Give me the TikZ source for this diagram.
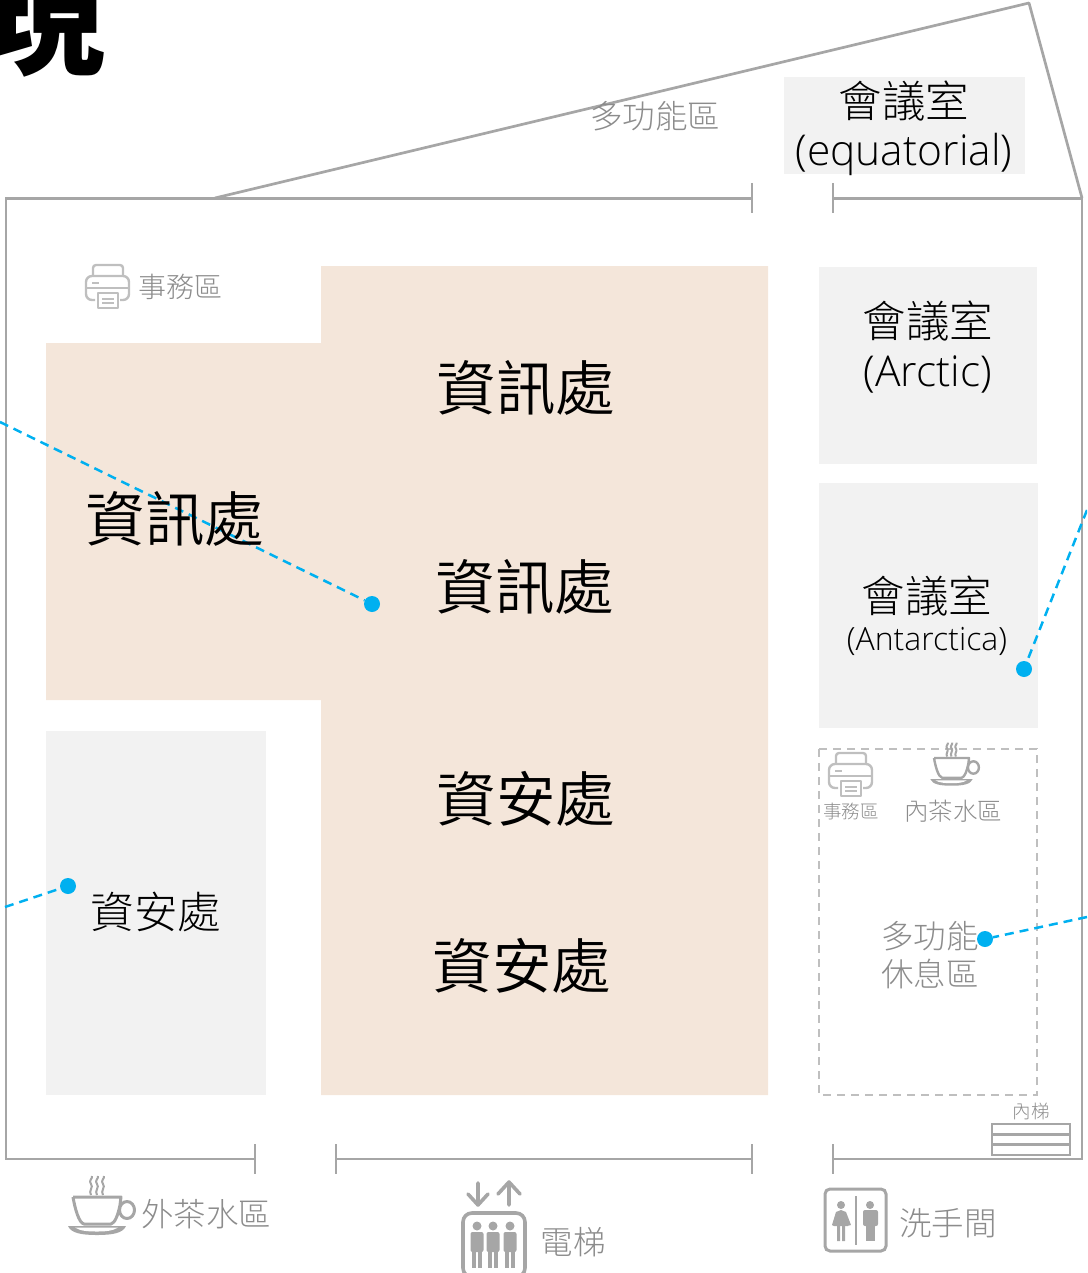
\documentclass[tikz,border=0pt]{standalone}
\usepackage{fontspec}
\setmainfont{Open Sans Light}
\newfontfamily\cjk{Noto Sans CJK TC DemiLight}
\newfontfamily\cjklight{Noto Sans CJK TC Light}
\newfontfamily\cjkblack{Noto Sans CJK TC Black}
\newfontfamily\lat{Open Sans Light}
\newcommand{\fs}[1]{\fontsize{#1}{#1}\selectfont}
\definecolor{wall}{HTML}{A6A6A6}
\definecolor{lite}{HTML}{BFBFBF}
\definecolor{beige}{HTML}{F4E6DA}
\definecolor{room}{HTML}{F2F2F2}
\definecolor{link}{HTML}{00B0F0}
\definecolor{greytext}{HTML}{8C8C8C}
\tikzset{
  wallline/.style={draw=wall,line width=2.7pt},
  beigearea/.style={fill=beige},
  roombox/.style={fill=room},
  dept/.style={font=\cjk\fs{59.5},text=black,inner sep=0pt},
  roomlabel/.style={font=\cjklight\fs{43.5},text=black,inner sep=0pt,align=center},
  greylabel/.style={font=\cjklight\fs{32.5},text=greytext,inner sep=0pt,align=left},
  dashlink/.style={draw=link,line width=2.5pt,dash pattern=on 9pt off 6pt},
  dot/.style={circle,fill=link,minimum size=16pt,inner sep=0pt},
  pics/printer/.style={code={
    \begin{scope}[draw=lite,line width=2.4pt,line join=round]
      \draw[rounded corners=3pt] (8,12) -- (8,1) -- (38,1) -- (38,12);
      \draw[rounded corners=6pt] (10,36) -- (1,36) -- (1,12) -- (44,12) -- (44,36) -- (35,36);
      \draw[fill=white] (13,29) rectangle (33,44);
      \draw (1,24) -- (44,24);
      \draw (7,19) -- (14,19);
      \draw (17,35) -- (29,35) (17,39) -- (29,39);
    \end{scope}}},
  pics/cup/.style={code={
    \begin{scope}[draw=wall,line join=round]
      \draw[line width=#1] (0,0) -- (48,0) -- (47,8) .. controls (45,18) and (42,26) .. (38,27) -- (11,27) .. controls (6,26) and (2,12) .. (0,0);
      \draw[line width=#1] (54,13) ellipse (7.5 and 8.5);
      \fill[wall] (-5,29) -- (53,29) .. controls (50,36) and (40,38) .. (24,38) .. controls (8,38) and (-2,36) .. (-5,29) -- cycle;
      \fill[white] (2,30.5) -- (45,30.5) .. controls (40,34) and (32,34.5) .. (24,34.5) .. controls (15,34.5) and (7,34) .. (2,30.5) -- cycle;
      \foreach \x in {18,24,30}{
        \draw[line width=2pt] (\x,-2) .. controls (\x-3,-6) and (\x+3,-10) .. (\x,-13) .. controls (\x-3,-16) and (\x+2,-19) .. (\x+1,-21);}
    \end{scope}}},
  pics/person/.style={code={
    \fill[wall] (0,-6) circle (4.5);
    \fill[wall,rounded corners=2pt] (-6.5,0) rectangle (6.5,20);
    \fill[wall] (-5,15) rectangle (-1,36);
    \fill[wall] (1,15) rectangle (5,36);}}
}
\begin{document}
\begin{tikzpicture}[x=1pt,y=-1pt]
\useasboundingbox (0,0) rectangle (1087,1273);
\clip (0,0) rectangle (1087,1273);
% title fragment
\node[anchor=base west,inner sep=0pt,font=\cjkblack\fs{125},text=black] (title) at (-20,65) {現};
% areas
\path[beigearea] (46,343) -- (321,343) -- (321,266) -- (768,266) -- (768,1095) -- (321,1095) -- (321,700) -- (46,700) -- cycle;
\path[roombox] (46,731) rectangle (266,1095);
\path[roombox] (819,267) rectangle (1037,464);
\path[roombox] (819,483) rectangle (1038,728);
\path[roombox] (784,77) rectangle (1025,174);
\draw[draw=lite,line width=2.4pt,dash pattern=on 8pt off 6pt] (819,749) rectangle (1037,1095);
% walls
\draw[wallline] (752,183) -- (752,213);
\draw[wallline] (752,198.5) -- (6,198.5) -- (6,1159) -- (255,1159);
\draw[wallline] (255,1144) -- (255,1174);
\draw[wallline] (336,1144) -- (336,1174);
\draw[wallline] (336,1159) -- (752,1159);
\draw[wallline] (752,1144) -- (752,1174);
\draw[wallline] (833,1144) -- (833,1174);
\draw[wallline,line join=miter] (833,1159) -- (1082,1159) -- (1082,198.5) -- (833,198.5);
\draw[wallline] (833,183) -- (833,213);
\draw[wallline,line join=round] (215,198) -- (1029,3) -- (1082,198);
% internal stairs
\draw[wallline] (992,1124) rectangle (1070,1155);
\draw[wallline] (992,1134.5) -- (1070,1134.5) (992,1144.5) -- (1070,1144.5);
% connectors
\coordinate (e1) at (0,422);
\coordinate (e2) at (1087,510);
\coordinate (e3) at (5,907);
\coordinate (e4) at (1087,917);
\node[dot] (p1) at (372,604) {};
\node[dot] (p2) at (1024,669) {};
\node[dot] (p3) at (68,886) {};
\node[dot] (p4) at (985,939) {};
\draw[dashlink] (e1) -- (p1);
\draw[dashlink] (e2) -- (p2);
\draw[dashlink] (e3) -- (p3);
\draw[dashlink] (e4) -- (p4);
% main labels
\node[dept] (d1) at (526,388) {資訊處};
\node[dept] (d2) at (175,519) {資訊處};
\node[dept] (d3) at (525,587) {資訊處};
\node[dept] (d4) at (526,799) {資安處};
\node[dept] (d5) at (522,966) {資安處};
\node[roomlabel] (sec) at (156,912) {資安處};
\node[roomlabel] (eq1) at (904,101) {會議室};
\node[font=\lat\fs{42.5},inner sep=0pt] (eq2) at (904,154) {(equatorial)};
\node[roomlabel] (ar1) at (928,321) {會議室};
\node[font=\lat\fs{42.5},inner sep=0pt] (ar2) at (928,374) {(Arctic)};
\node[roomlabel] (an1) at (927,596) {會議室};
\node[font=\lat\fs{32},inner sep=0pt] (an2) at (927,641) {(Antarctica)};
% grey labels
\node[greylabel] (multi) at (655,116) {多功能區};
\node[greylabel,font=\cjklight\fs{28}] (off1) at (180,287) {事務區};
\node[greylabel,font=\cjklight\fs{18.5}] (off2) at (851,811) {事務區};
\node[greylabel,font=\cjklight\fs{24.5}] (tea1) at (953,811) {內茶水區};
\node[greylabel] (rest1) at (930,936) {多功能};
\node[greylabel] (rest2) at (930,974) {休息區};
\node[greylabel,font=\cjklight\fs{18.5}] (stair) at (1031,1111) {內梯};
\node[greylabel] (tea2) at (206,1214) {外茶水區};
\node[greylabel] (lift) at (573,1242) {電梯};
\node[greylabel] (wc) at (948,1223) {洗手間};
% icons
\pic at (85,264) {printer};
\pic at (828,752) {printer};
\pic at (73,1197) {cup=3pt};
\pic[scale=0.73] at (934,758) {cup=2.4pt};
% elevator
\draw[draw=wall,line width=3.6pt,rounded corners=9pt] (463,1213) rectangle (525,1277);
\pic at (477,1232) {person};
\pic at (493,1232) {person};
\pic at (510,1232) {person};
\draw[draw=wall,line width=3.6pt,line cap=round,line join=round] (478,1183) -- (478,1205) (468,1194) -- (478,1205) -- (488,1194);
\draw[draw=wall,line width=3.6pt,line cap=round,line join=round] (509,1205) -- (509,1183) (498,1194) -- (509,1182) -- (520,1194);
% restroom
\draw[draw=wall,line width=3pt,rounded corners=5pt] (825,1189) rectangle (886,1251);
\draw[draw=wall,line width=2pt] (856,1196) -- (856,1245);
\fill[wall] (841,1205) circle (4);
\fill[wall] (841,1210) -- (846,1212) -- (851,1225) -- (847,1226) -- (848,1226) -- (834,1226) -- (832,1225) -- (836,1212) -- cycle;
\fill[wall] (837,1224) rectangle (840,1241) (842,1224) rectangle (845,1241);
\fill[wall] (870,1205) circle (4);
\fill[wall,rounded corners=2pt] (863,1210) rectangle (878,1226);
\fill[wall] (866,1220) rectangle (875,1241);
\end{tikzpicture}
\end{document}
